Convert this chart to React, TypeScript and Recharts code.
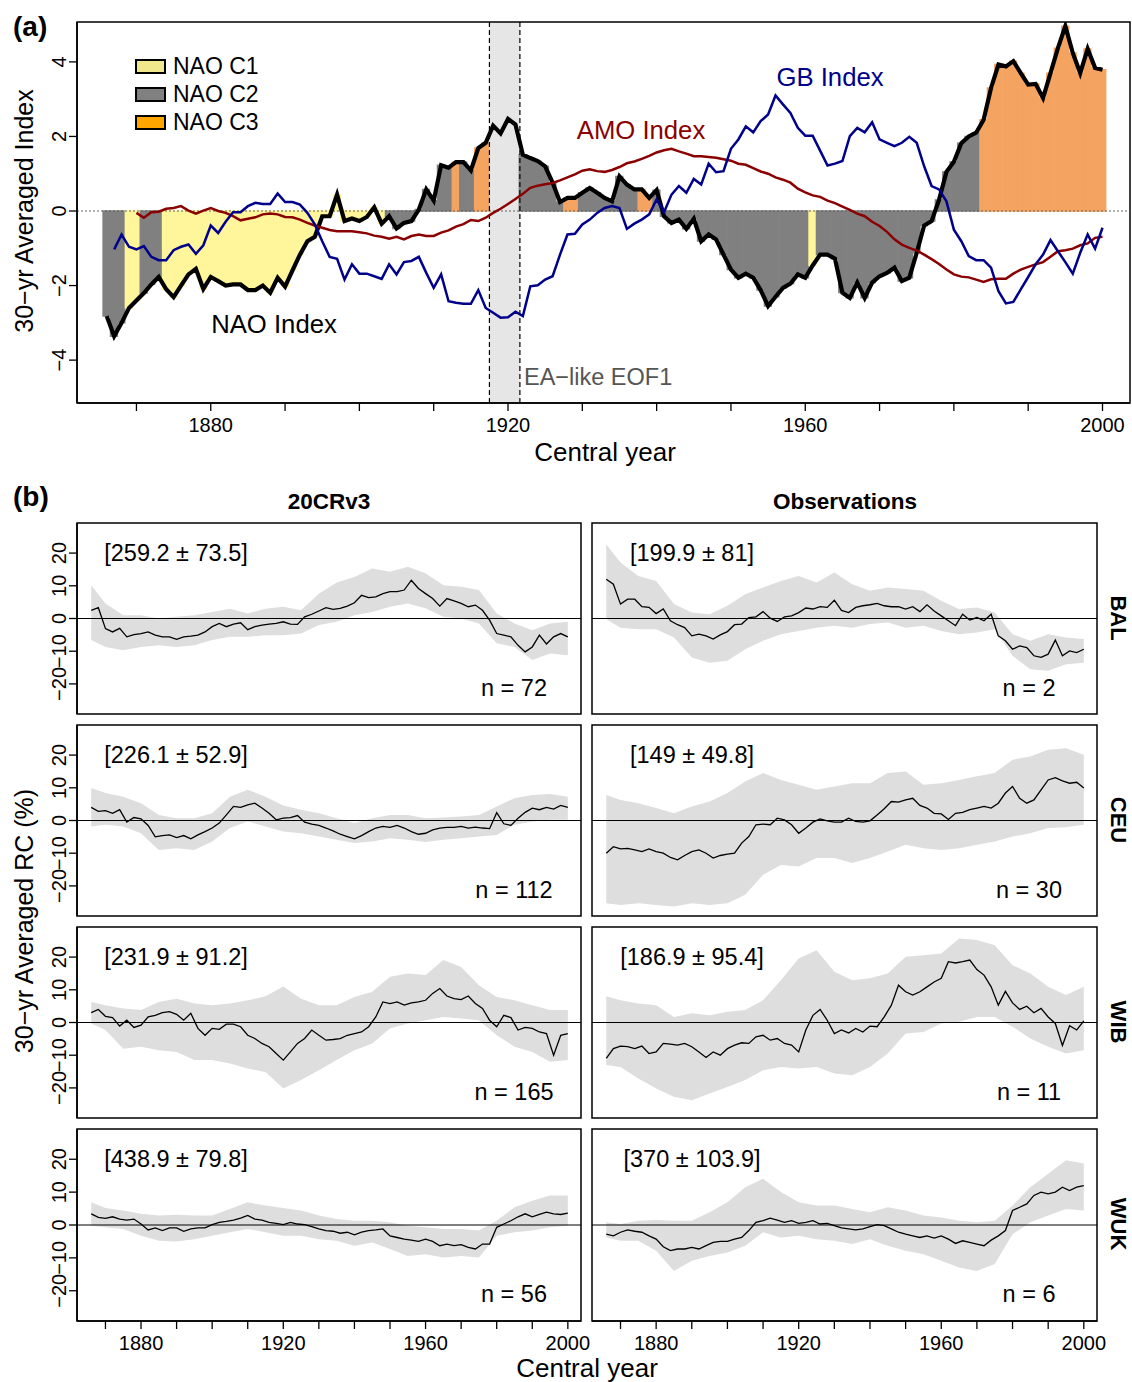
import React from 'react'
import {
  ComposedChart,
  Bar,
  Line,
  Area,
  XAxis,
  YAxis,
  ReferenceLine,
  ReferenceArea,
  Legend,
  Cell,
} from 'recharts'

const FONT = '"Liberation Sans", Arial, Helvetica, sans-serif'

// shared x axis
const X_MIN = 1862
const X_MAX = 2003.7
const DECADE_TICKS = [1870, 1880, 1890, 1900, 1910, 1920, 1930, 1940, 1950, 1960, 1970, 1980, 1990, 2000]
const LABELLED_YEARS = [1880, 1920, 1960, 2000]

// ---------- panel (a) ----------
const A_Y_DOMAIN = [-5.15, 5.07]
const A_Y_TICKS = [-4, -2, 0, 2, 4]

const NAO_START = 1866
const NAO = [
  -2.82, -3.36, -3.0, -2.6,
  -2.4, -2.2, -1.97, -1.77, -2.1, -2.31, -2.0, -1.7, -1.55, -2.09,
  -1.77, -1.88, -2.0, -1.97, -1.97, -2.12, -2.12, -2.0, -2.19, -1.79,
  -2.03, -1.59, -1.17, -0.81, -0.69, -0.14, -0.14, 0.44, -0.27, -0.2,
  -0.27, -0.16, 0.1, -0.34, -0.14, -0.47, -0.32, -0.27, 0.04, 0.58,
  0.28, 1.23, 1.16, 1.31, 1.31, 1.09, 1.69, 1.83, 2.29, 2.08,
  2.47, 2.32, 1.51, 1.42, 1.34, 1.2, 0.76, 0.24, 0.35, 0.35,
  0.49, 0.62, 0.49, 0.35, 0.26, 0.93, 0.71, 0.58, 0.58, 0.35,
  0.56, -0.14, -0.32, -0.23, -0.48, -0.21, -0.81, -0.63, -0.76, -1.17,
  -1.57, -1.79, -1.68, -1.79, -2.12, -2.55, -2.3, -2.06, -1.95, -1.7,
  -1.79, -1.46, -1.17, -1.17, -1.28, -2.19, -2.33, -1.92, -2.33, -1.92,
  -1.75, -1.66, -1.52, -1.88, -1.79, -1.12, -0.39, -0.27, 0.3, 1.05,
  1.32, 1.82, 2.0, 2.1, 2.45, 3.3, 3.93, 3.88, 4.02, 3.7,
  3.39, 3.41, 3.03, 3.7, 4.37, 4.96, 4.24, 3.7, 4.35, 3.84,
  3.79,
]
// 0 = not classified, 1..3 = NAO C1..C3
const NAO_CLASS = [
  2, 2, 2, 1,
  1, 2, 2, 2, 1, 1, 1, 1, 1, 1,
  1, 1, 1, 1, 1, 1, 1, 1, 1, 1,
  1, 1, 1, 1, 1, 1, 1, 1, 1, 1,
  1, 1, 1, 1, 2, 2, 2, 2, 2, 2,
  2, 2, 2, 3, 2, 2, 3, 3, 0, 0,
  0, 0, 2, 2, 2, 2, 2, 2, 3, 3,
  2, 2, 2, 2, 2, 2, 2, 2, 3, 3,
  2, 2, 2, 2, 2, 2, 2, 2, 2, 2,
  2, 2, 2, 2, 2, 2, 2, 2, 2, 2,
  2, 1, 2, 2, 2, 2, 2, 2, 2, 2,
  2, 2, 2, 2, 2, 2, 2, 2, 2, 2,
  2, 2, 2, 2, 3, 3, 3, 3, 3, 3,
  3, 3, 3, 3, 3, 3, 3, 3, 3, 3,
  3,
]
const GB_START = 1867
const GB = [
  -1.03, -0.63, -0.96,
  -1.03, -0.94, -1.23, -1.32, -1.32, -1.05, -0.96, -0.9, -1.15, -0.92,
  -0.39, -0.59, -0.29, -0.03, -0.03, 0.13, 0.22, 0.19, 0.19, 0.47,
  0.24, 0.24, 0.17, -0.05, -0.36, -0.81, -1.23, -1.28, -1.84, -1.43,
  -1.68, -1.68, -1.75, -1.82, -1.43, -1.7, -1.37, -1.34, -1.23, -1.66,
  -2.06, -1.7, -2.42, -2.46, -2.49, -2.49, -2.12, -2.6, -2.73, -2.86,
  -2.85, -2.7, -2.82, -2.02, -1.99, -1.84, -1.75, -1.17, -0.63, -0.61,
  -0.36, -0.23, -0.05, 0.08, 0.13, 0.08, -0.48, -0.34, -0.23, -0.09,
  0.31, -0.03, 0.44, 0.67, 0.49, 0.86, 0.71, 1.27, 1.04, 1.07,
  1.67, 1.92, 2.27, 2.11, 2.41, 2.59, 3.1, 2.86, 2.63, 2.23,
  2.02, 2.02, 1.62, 1.22, 1.27, 1.34, 2.01, 2.23, 2.11, 2.38,
  1.92, 1.83, 1.74, 1.83, 1.99, 1.83, 1.2, 0.67, 0.58, 0.26,
  -0.5, -0.81, -1.21, -1.32, -1.32, -1.52, -2.15, -2.48, -2.44, -2.1,
  -1.77, -1.43, -1.17, -0.78, -1.08, -1.37, -1.68, -1.12, -0.63, -1.01,
  -0.45,
]
const AMO_START = 1870
const AMO = [
  -0.05, -0.18, -0.03, -0.02, 0.06, 0.08, 0.13, 0.01, -0.07, 0.01,
  0.08, 0.0, -0.05, -0.14, -0.25, -0.21, -0.17, -0.09, -0.07, -0.09,
  -0.16, -0.17, -0.23, -0.32, -0.39, -0.45, -0.51, -0.54, -0.54, -0.54,
  -0.57, -0.6, -0.66, -0.69, -0.74, -0.69, -0.76, -0.67, -0.63, -0.67,
  -0.67, -0.58, -0.52, -0.42, -0.35, -0.24, -0.27, -0.18, -0.05, 0.06,
  0.19, 0.32, 0.46, 0.62, 0.68, 0.72, 0.75, 0.82, 0.9, 0.98,
  1.08, 1.12, 1.07, 1.05, 1.1, 1.18, 1.28, 1.33, 1.4, 1.48,
  1.57, 1.63, 1.67, 1.6, 1.54, 1.47, 1.47, 1.45, 1.43, 1.39,
  1.35, 1.27, 1.24, 1.15, 1.06, 1.0, 0.9, 0.84, 0.76, 0.6,
  0.5, 0.42, 0.38, 0.28, 0.21, 0.12, 0.03, -0.07, -0.14, -0.29,
  -0.4, -0.56, -0.76, -0.9, -0.99, -1.06, -1.17, -1.29, -1.42, -1.57,
  -1.7, -1.76, -1.78, -1.84, -1.9, -1.83, -1.82, -1.82, -1.68, -1.57,
  -1.5, -1.43, -1.37, -1.23, -1.08, -1.05, -1.01, -0.92, -0.87, -0.72,
  -0.69,
]
const EOF_WINDOW = [1917.5, 1921.6]

const CLASS_NAMES = ['NAO C1', 'NAO C2', 'NAO C3']
const CLASS_FILL = ['none', '#fff59a', '#808080', '#f4a460']
const CLASS_SWATCH = ['#f0e68c', '#808080', '#ffa500']

// ---------- panel (b) ----------
const B_Y_DOMAIN = [-29.2, 29.2]
const B_Y_TICKS = [-20, -10, 0, 10, 20]
const LINE_YEARS = Array.from({ length: 68 }, (_, i) => 1866 + 2 * i)
const BAND_YEARS = [1866, ...Array.from({ length: 27 }, (_, i) => 1870 + 5 * i)]

const BAL_20CR = [
  2.5, 3.3,
  -3.1, -4.1, -3.0, -5.6, -4.9,
  -4.6, -4.1, -5.1, -5.6, -5.6,
  -6.4, -5.6, -5.4, -5.1, -4.1,
  -2.5, -1.5, -2.5, -1.7, -1.3,
  -3.4, -2.5, -2.0, -1.7, -1.5,
  -1.0, -1.7, -1.8, 0.5, 1.3,
  2.3, 3.3, 2.8, 3.1, 3.8,
  4.8, 7.1, 6.4, 6.6, 7.6,
  8.2, 8.2, 8.7, 11.7, 9.2,
  7.6, 6.1, 3.8, 6.1, 5.4,
  4.6, 3.6, 4.1, 2.5, -0.5,
  -4.6, -5.1, -5.6, -8.2, -10.2,
  -8.7, -5.1, -7.8, -5.6, -4.6,
  -5.6,
]
const BAL_20CR_HI = [10.2, 4.6, 1.0, 1.0, 0.0, 0.5, 1.0, 2.0, 3.0, 1.5, 3.0, 3.6, 2.5, 7.6, 11.0, 12.7, 15.3, 14.3, 15.8, 13.8, 10.2, 9.7, 8.7, 1.5, -1.5, -3.6, -1.5, -1.0]
const BAL_20CR_LO = [-6.6, -8.7, -9.7, -8.7, -8.2, -8.7, -8.2, -6.6, -5.6, -5.6, -5.1, -5.1, -4.6, -2.0, -1.0, 1.0, 2.0, 3.6, 4.6, 3.1, 0.5, 0.0, -1.5, -7.6, -8.7, -12.7, -10.7, -11.2]

const BAL_OBS = [
  12.0, 10.5,
  4.4, 5.9, 5.9, 3.6, 3.4,
  1.5, 2.9, -0.7, -1.9, -2.8,
  -5.3, -4.8, -5.3, -6.3, -5.0,
  -4.0, -1.9, -1.7, 0.3, 0.5,
  2.1, 0.1, -0.9, 0.5, 0.8,
  1.8, 3.2, 2.9, 3.6, 3.4,
  5.6, 2.5, 1.8, 3.4, 3.9,
  4.2, 4.6, 3.9, 3.6, 3.6,
  2.9, 3.6, 2.1, 4.2, 2.3,
  0.8, -0.7, -2.2, 1.3, -0.5,
  0.3, -0.7, 1.3, -5.3, -6.8,
  -9.4, -8.4, -8.9, -11.4, -11.9,
  -10.9, -6.6, -11.4, -9.9, -10.4,
  -9.4,
]
const BAL_OBS_HI = [22.7, 17.1, 13.0, 11.5, 4.4, 1.8, 1.3, 3.9, 7.4, 9.5, 11.5, 13.0, 11.0, 14.1, 10.5, 8.5, 9.5, 9.0, 8.5, 5.4, 2.9, 3.4, 1.8, -4.8, -6.8, -4.8, -5.8, -6.3]
const BAL_OBS_LO = [-0.2, -2.8, -3.3, -3.3, -5.8, -11.9, -13.5, -12.9, -9.4, -6.8, -4.8, -3.8, -2.8, -2.2, -2.8, -1.7, -1.2, -2.8, -2.2, -3.8, -4.8, -4.3, -3.3, -11.4, -15.5, -16.0, -14.0, -13.5]

const CEU_20CR = [
  4.0, 2.8,
  3.0, 2.2, 3.3, -0.5, 0.9,
  0.5, -1.5, -5.0, -4.6, -4.4,
  -5.2, -4.6, -5.6, -4.4, -3.4,
  -2.3, -0.8, 1.7, 4.3, 4.0,
  4.8, 5.3, 3.8, 2.2, 0.2,
  0.7, 0.9, 1.5, -0.5, -1.1,
  -1.5, -2.3, -3.2, -4.2, -4.9,
  -5.6, -4.6, -3.4, -2.3, -1.8,
  -2.1, -1.5, -2.3, -3.4, -4.2,
  -3.9, -2.9, -2.3, -2.1, -2.1,
  -1.8, -2.3, -2.0, -2.3, -2.5,
  2.4, -1.0, -1.5, 0.7, 2.5,
  3.8, 3.3, 4.0, 3.5, 4.6,
  4.0,
]
const CEU_20CR_HI = [9.9, 8.4, 7.3, 5.3, 1.7, 0.7, 0.7, 2.2, 7.3, 9.4, 7.3, 4.6, 3.3, 2.2, 0.7, -0.8, 0.7, 1.7, 1.7, 0.7, 0.9, 1.2, 1.7, 4.3, 6.8, 7.8, 8.1, 7.3]
const CEU_20CR_LO = [-1.8, -1.3, -1.8, -3.9, -9.0, -8.5, -9.0, -6.4, -2.3, -0.3, -1.8, -3.4, -3.9, -4.9, -5.9, -6.9, -6.4, -5.4, -5.9, -6.6, -5.9, -5.4, -4.9, -4.4, -1.3, -0.3, 0.2, 0.2]

const CEU_OBS = [
  -10.0, -8.0,
  -8.7, -8.5, -9.0, -9.5, -8.7,
  -9.5, -10.0, -11.3, -12.0, -10.7,
  -9.5, -9.0, -10.0, -11.5, -10.7,
  -10.3, -10.0, -6.9, -4.9, -1.3,
  -1.1, -1.3, 0.7, 0.2, -1.3,
  -3.9, -2.3, -0.5, 0.5, -0.1,
  -0.5, -0.5, 0.7, -0.3, -0.5,
  -0.1, 1.7, 3.6, 5.8, 5.6,
  6.3, 6.8, 4.6, 3.8, 2.2,
  2.0, 0.3, 2.2, 2.5, 3.3,
  3.8, 4.3, 3.8, 5.3, 8.4,
  10.4, 6.8, 5.3, 6.3, 9.4,
  12.4, 13.1, 12.1, 11.4, 11.7,
  9.9,
]
const CEU_OBS_HI = [7.8, 6.3, 5.3, 3.8, 2.2, 4.3, 5.8, 8.4, 11.9, 14.5, 12.4, 10.9, 9.4, 10.4, 11.4, 11.4, 14.5, 15.0, 10.9, 11.4, 12.4, 13.5, 14.5, 18.6, 19.6, 21.6, 22.1, 20.1]
const CEU_OBS_LO = [-25.3, -25.8, -25.3, -25.8, -26.3, -25.3, -25.8, -25.3, -22.7, -16.6, -13.6, -14.1, -11.5, -11.5, -13.0, -11.5, -9.5, -7.4, -8.5, -9.0, -8.5, -7.4, -6.4, -4.9, -3.9, -2.3, -2.1, -1.3]

const WIB_20CR = [
  3.0, 4.0,
  1.9, 1.5, -1.1, 0.7, -1.5,
  -0.8, 1.7, 2.2, 3.0, 3.3,
  2.5, 0.7, 2.8, -1.8, -3.9,
  -1.8, -2.1, -0.5, -0.5, -1.3,
  -3.9, -4.9, -6.4, -7.4, -9.5,
  -11.5, -9.0, -6.4, -4.9, -2.3,
  -3.9, -5.4, -5.2, -4.9, -3.9,
  -3.4, -2.9, -1.3, 1.7, 6.3,
  5.8, 6.3, 5.3, 6.0, 6.3,
  6.8, 8.9, 10.4, 8.1, 7.3,
  7.0, 8.1, 5.8, 4.3, 0.7,
  -1.3, 2.2, 1.5, -2.3, -1.5,
  -1.8, -2.9, -3.4, -10.0, -3.9,
  -3.4,
]
const WIB_20CR_HI = [6.3, 5.3, 4.3, 3.8, 6.3, 7.3, 5.8, 5.3, 5.8, 6.8, 8.0, 11.0, 7.3, 5.3, 5.3, 7.8, 9.4, 14.0, 15.0, 14.5, 19.1, 17.0, 11.4, 7.8, 6.8, 5.3, 3.8, 3.8]
const WIB_20CR_LO = [-0.3, -2.3, -8.0, -7.4, -8.5, -9.0, -11.5, -11.5, -12.5, -14.1, -15.1, -20.2, -17.6, -14.6, -11.5, -8.5, -6.4, -1.8, -0.3, 0.7, 1.7, 1.2, 0.7, -3.9, -7.4, -9.0, -12.0, -11.5]

const WIB_OBS = [
  -11.0, -8.0,
  -7.2, -7.4, -8.0, -7.2, -9.5,
  -9.0, -6.4, -6.6, -6.9, -6.4,
  -7.4, -9.0, -10.7, -9.0, -10.0,
  -8.0, -6.9, -6.2, -6.4, -4.4,
  -3.9, -5.4, -4.9, -6.4, -6.9,
  -9.0, -2.3, 2.2, 4.0, 0.7,
  -3.4, -2.3, -3.2, -1.8, -2.9,
  -1.1, -1.3, 1.7, 5.3, 11.4,
  9.4, 8.4, 9.4, 10.9, 12.4,
  13.5, 18.6, 18.2, 18.6, 19.1,
  16.2, 14.5, 10.9, 5.3, 9.5,
  6.0, 4.0, 5.0, 3.0, 4.3,
  1.7, -0.3, -7.0, -1.0, -2.3,
  0.5,
]
const WIB_OBS_HI = [8.0, 6.8, 5.8, 5.3, 1.7, 2.8, 2.2, 3.3, 3.8, 6.8, 12.9, 19.6, 22.1, 15.5, 12.9, 13.5, 15.0, 20.1, 20.6, 21.1, 25.7, 25.2, 23.6, 17.5, 15.0, 10.9, 8.4, 10.9]
const WIB_OBS_LO = [-13.0, -13.6, -17.1, -20.2, -22.7, -23.8, -21.7, -19.7, -17.6, -14.6, -13.6, -14.1, -13.6, -15.6, -16.1, -13.6, -9.5, -3.4, -2.9, -0.3, 0.2, 1.7, 1.7, -1.3, -4.9, -7.4, -9.5, -8.5]

const WUK_20CR = [
  3.4, 2.3,
  2.0, 2.5, 1.8, 1.5, 1.8,
  0.3, -1.5, -0.9, -1.7, -0.9,
  -0.9, -1.9, -1.2, -0.9, -0.9,
  0.1, 0.8, 1.1, 1.5, 2.1,
  2.9, 1.8, 1.5, 0.8, 0.5,
  0.1, 0.8, 0.3, 0.1, -0.5,
  -1.2, -1.7, -1.9, -2.5, -2.2,
  -3.0, -2.2, -1.7, -1.5, -1.2,
  -3.3, -3.8, -4.3, -4.6, -5.0,
  -4.3, -5.0, -6.3, -5.8, -6.3,
  -6.0, -6.8, -7.3, -5.8, -5.8,
  -0.7, 0.3, 1.3, 2.5, 3.4,
  2.5, 3.2, 3.9, 3.4, 3.2,
  3.6,
]
const WUK_20CR_HI = [6.9, 5.2, 4.4, 3.4, 2.9, 3.1, 2.9, 2.9, 4.9, 6.9, 5.9, 5.2, 4.4, 2.9, 1.8, 1.3, 1.3, 0.8, -0.2, -0.7, -1.2, -1.2, -1.7, 1.3, 5.4, 7.4, 9.0, 9.0]
const WUK_20CR_LO = [-0.2, -0.7, -1.2, -3.3, -4.8, -5.0, -4.3, -3.3, -2.2, -1.2, -2.2, -3.3, -3.3, -4.3, -4.8, -6.3, -5.3, -7.3, -9.4, -8.9, -9.9, -9.4, -9.9, -3.3, -2.2, -1.7, -0.7, -0.2]

const WUK_OBS = [
  -2.8, -3.3,
  -2.2, -1.5, -1.9, -2.2, -3.3,
  -4.3, -6.6, -7.8, -7.3, -7.3,
  -6.8, -7.3, -6.3, -5.3, -5.0,
  -5.0, -4.3, -3.8, -1.7, 0.8,
  1.3, 2.1, 1.5, 0.8, 1.3,
  0.5, 0.8, 1.3, 0.3, 0.5,
  -0.2, -0.9, -1.2, -1.5, -1.2,
  -0.5, 0.1, -0.2, -1.2, -2.2,
  -2.8, -3.3, -3.8, -3.3, -4.0,
  -3.3, -4.3, -5.6, -4.8, -5.3,
  -5.8, -6.3, -4.6, -3.3, -1.7,
  4.4, 5.4, 6.4, 9.0, 10.0,
  9.5, 10.0, 11.5, 10.5, 11.5,
  12.0,
]
const WUK_OBS_HI = [0.8, 0.3, 1.3, 1.5, 1.3, 1.3, 3.9, 6.9, 11.5, 14.1, 10.0, 6.9, 5.9, 5.9, 4.9, 3.9, 5.4, 4.4, 2.9, 2.3, 1.3, 0.8, 1.3, 5.9, 11.5, 15.6, 19.7, 18.7]
const WUK_OBS_LO = [-3.8, -4.8, -4.8, -7.8, -14.0, -10.9, -9.4, -8.4, -6.3, -2.2, -3.8, -3.3, -4.3, -4.8, -5.8, -4.3, -6.3, -7.8, -8.9, -10.9, -12.9, -14.0, -11.9, -2.8, 0.8, 2.9, 4.9, 4.4]

const REGIONS = ['BAL', 'CEU', 'WIB', 'WUK']
const SOURCES = ['20CRv3', 'Observations']
const STATS = [
  ['[259.2 ± 73.5]', '[199.9 ± 81]'],
  ['[226.1 ± 52.9]', '[149 ± 49.8]'],
  ['[231.9 ± 91.2]', '[186.9 ± 95.4]'],
  ['[438.9 ± 79.8]', '[370 ± 103.9]'],
]
const COUNTS = [
  [72, 2],
  [112, 30],
  [165, 11],
  [56, 6],
]
const SERIES = [
  [[BAL_20CR, BAL_20CR_LO, BAL_20CR_HI], [BAL_OBS, BAL_OBS_LO, BAL_OBS_HI]],
  [[CEU_20CR, CEU_20CR_LO, CEU_20CR_HI], [CEU_OBS, CEU_OBS_LO, CEU_OBS_HI]],
  [[WIB_20CR, WIB_20CR_LO, WIB_20CR_HI], [WIB_OBS, WIB_OBS_LO, WIB_OBS_HI]],
  [[WUK_20CR, WUK_20CR_LO, WUK_20CR_HI], [WUK_OBS, WUK_OBS_LO, WUK_OBS_HI]],
]

// layout
const ROW_TOPS = [523, 725, 927, 1129]
const BOX_H = 191
const COL_LEFT = [77, 592]
const BOX_W = [504, 505]

const tableA = NAO.map((v, i) => {
  const year = NAO_START + i
  return {
    year,
    nao: v,
    cls: NAO_CLASS[i],
    gb: year >= GB_START ? GB[year - GB_START] : null,
    amo: year >= AMO_START ? AMO[year - AMO_START] : null,
  }
})

function buildRows(line: number[], lo: number[], hi: number[]) {
  const rows = new Map<number, any>()
  LINE_YEARS.forEach((y, i) => rows.set(y, { year: y, rc: line[i] }))
  BAND_YEARS.forEach((y, i) => {
    const r = rows.get(y) || { year: y }
    r.band = [lo[i], hi[i]]
    rows.set(y, r)
  })
  return Array.from(rows.values()).sort((a, b) => a.year - b.year)
}

const fmt = (v: number) => (v < 0 ? `\u2212${Math.abs(v)}` : `${v}`)

const RotatedYTick = (props: any) => {
  const { x, y, payload } = props
  return (
    <text
      x={x}
      y={y}
      transform={`rotate(-90 ${x} ${y})`}
      textAnchor="middle"
      fontSize={20}
      fontFamily={FONT}
      fill="#000"
    >
      {fmt(payload.value)}
    </text>
  )
}

const YearTick = (props: any) => {
  const { x, y, payload } = props
  if (!LABELLED_YEARS.includes(payload.value)) return <g />
  return (
    <text x={x} y={y + 12} textAnchor="middle" dominantBaseline="central" fontSize={20} fontFamily={FONT} fill="#000">
      {payload.value}
    </text>
  )
}

function ClassLegend() {
  return (
    <div style={{ fontFamily: FONT, fontSize: 23, color: '#000' }}>
      {CLASS_NAMES.map((name, i) => (
        <div key={name} style={{ display: 'flex', alignItems: 'center', height: 28 }}>
          <span
            style={{
              display: 'inline-block',
              width: 31,
              height: 15,
              background: CLASS_SWATCH[i],
              border: '2px solid #000',
              boxSizing: 'border-box',
              marginRight: 7,
            }}
          />
          <span>{name}</span>
        </div>
      ))}
    </div>
  )
}

function Txt({ x, y, children, size = 23.5, bold = false, anchor = 'middle', rotate = 0, color = '#000' }: any) {
  const tx = anchor === 'middle' ? '-50%' : anchor === 'end' ? '-100%' : '0'
  return (
    <div
      style={{
        position: 'absolute',
        left: x,
        top: y,
        transform: `translate(${tx}, -50%) rotate(${rotate}deg)`,
        whiteSpace: 'nowrap',
        fontSize: size,
        fontWeight: bold ? 700 : 400,
        color,
        fontFamily: FONT,
        lineHeight: 1,
      }}
    >
      {children}
    </div>
  )
}

function PanelA() {
  return (
    <div style={{ position: 'absolute', left: 0, top: 0 }}>
      <ComposedChart
        width={1132}
        height={470}
        data={tableA}
        margin={{ top: 22, right: 2, left: 0, bottom: 0 }}
        barCategoryGap={0}
        barGap={0}
      >
        <XAxis
          dataKey="year"
          type="number"
          domain={[X_MIN, X_MAX]}
          allowDataOverflow
          ticks={DECADE_TICKS}
          interval={0}
          tickSize={8}
          height={67}
          tick={YearTick}
          stroke="#000"
          tickLine={{ stroke: '#000', strokeWidth: 1.3 }}
          axisLine={{ stroke: '#000', strokeWidth: 1.5 }}
        />
        <YAxis
          type="number"
          domain={A_Y_DOMAIN}
          allowDataOverflow
          ticks={A_Y_TICKS}
          interval={0}
          width={77}
          tickSize={8}
          tickMargin={3}
          tick={RotatedYTick}
          tickLine={{ stroke: '#000', strokeWidth: 1.3 }}
          axisLine={{ stroke: '#000', strokeWidth: 1.5 }}
        />
        <ReferenceArea x1={EOF_WINDOW[0]} x2={EOF_WINDOW[1]} fill="#e6e6e6" fillOpacity={1} stroke="none" />
        <Bar dataKey="nao" isAnimationActive={false}>
          {tableA.map((r) => (
            <Cell key={r.year} fill={CLASS_FILL[r.cls]} stroke={CLASS_FILL[r.cls]} strokeWidth={1.3} />
          ))}
        </Bar>
        <ReferenceLine y={0} stroke="#555" strokeDasharray="2 2" strokeWidth={0.9} />
        <ReferenceLine x={EOF_WINDOW[0]} stroke="#000" strokeDasharray="5 3" strokeWidth={1.2} />
        <ReferenceLine x={EOF_WINDOW[1]} stroke="#000" strokeDasharray="5 3" strokeWidth={1.2} />
        <Line dataKey="nao" stroke="#000" strokeWidth={4.2} dot={false} activeDot={false} isAnimationActive={false} />
        <Line dataKey="amo" stroke="#8b0000" strokeWidth={2.5} dot={false} activeDot={false} isAnimationActive={false} />
        <Line dataKey="gb" stroke="#00008b" strokeWidth={2.5} dot={false} activeDot={false} isAnimationActive={false} />
        <ReferenceArea
          x1={X_MIN}
          x2={X_MAX}
          y1={A_Y_DOMAIN[0]}
          y2={A_Y_DOMAIN[1]}
          fill="none"
          stroke="#000"
          strokeWidth={1.5}
        />
        <Legend
          layout="horizontal"
          verticalAlign="middle"
          align="center"
          wrapperStyle={{ left: 135, top: 52, width: 'auto' }}
          content={() => <ClassLegend />}
        />
      </ComposedChart>
    </div>
  )
}

function SmallPanel({ row, col }: { row: number; col: number }) {
  const [line, lo, hi] = SERIES[row][col]
  const rows = buildRows(line, lo, hi)
  const isBottom = row === 3
  const isLeft = col === 0
  const leftPad = isLeft ? 0 : 1
  const rightPad = isBottom ? 26 : 3
  const yw = isLeft ? 77 : 0
  const width = leftPad + yw + BOX_W[col] + rightPad
  const height = 1 + BOX_H + 1 + (isBottom ? 40 : 0)
  const left = COL_LEFT[col] - yw - leftPad
  return (
    <div style={{ position: 'absolute', left, top: ROW_TOPS[row] - 1 }}>
      <ComposedChart
        width={width}
        height={height}
        data={rows}
        margin={{ top: 1, right: rightPad, left: leftPad, bottom: isBottom ? 0 : 1 }}
      >
        <XAxis
          dataKey="year"
          type="number"
          domain={[X_MIN, X_MAX]}
          allowDataOverflow
          ticks={DECADE_TICKS}
          interval={0}
          hide={!isBottom}
          tickSize={8}
          height={40}
          tick={YearTick}
          tickLine={{ stroke: '#000', strokeWidth: 1.3 }}
          axisLine={{ stroke: '#000', strokeWidth: 1.5 }}
        />
        <YAxis
          type="number"
          domain={B_Y_DOMAIN}
          allowDataOverflow
          ticks={B_Y_TICKS}
          interval={0}
          hide={!isLeft}
          width={77}
          tickSize={8}
          tickMargin={3}
          tick={RotatedYTick}
          tickLine={{ stroke: '#000', strokeWidth: 1.3 }}
          axisLine={{ stroke: '#000', strokeWidth: 1.5 }}
        />
        <Area
          dataKey="band"
          type="linear"
          stroke="none"
          fill="#dedede"
          fillOpacity={1}
          connectNulls
          dot={false}
          activeDot={false}
          isAnimationActive={false}
        />
        <ReferenceLine y={0} stroke="#000" strokeWidth={1} />
        <Line
          dataKey="rc"
          stroke="#000"
          strokeWidth={1.3}
          dot={false}
          activeDot={false}
          connectNulls
          isAnimationActive={false}
        />
        <ReferenceArea
          x1={X_MIN}
          x2={X_MAX}
          y1={B_Y_DOMAIN[0]}
          y2={B_Y_DOMAIN[1]}
          fill="none"
          stroke="#000"
          strokeWidth={1.5}
        />
      </ComposedChart>
    </div>
  )
}

export default function App() {
  const statX = [176, 692]
  const countX = [514, 1029]
  return (
    <div
      style={{
        position: 'absolute',
        left: 0,
        top: 0,
        width: 1132,
        height: 1382,
        background: '#fff',
        fontFamily: FONT,
      }}
    >
      <PanelA />
      {REGIONS.map((_, row) =>
        SOURCES.map((__, col) => <SmallPanel key={`${row}-${col}`} row={row} col={col} />)
      )}

      <Txt x={13} y={27} size={28} bold anchor="start">(a)</Txt>
      <Txt x={24} y={211} size={25} rotate={-90}>30−yr Averaged Index</Txt>
      <Txt x={605} y={452} size={26}>Central year</Txt>
      <Txt x={274} y={325} size={25.7}>NAO Index</Txt>
      <Txt x={641} y={131} size={25.7} color="#8b0000">AMO Index</Txt>
      <Txt x={830} y={78} size={25.7} color="#00008b">GB Index</Txt>
      <Txt x={524} y={378} size={23.5} color="#555" anchor="start">EA−like EOF1</Txt>

      <Txt x={13} y={497} size={28} bold anchor="start">(b)</Txt>
      <Txt x={329} y={502} size={22.5} bold>{SOURCES[0]}</Txt>
      <Txt x={845} y={502} size={22.5} bold>{SOURCES[1]}</Txt>
      <Txt x={24} y={921} size={25} rotate={-90}>30−yr Averaged RC (%)</Txt>
      <Txt x={587} y={1368} size={26}>Central year</Txt>

      {REGIONS.map((reg, row) => (
        <React.Fragment key={reg}>
          <Txt x={1118} y={ROW_TOPS[row] + 95} size={22} bold rotate={90}>{reg}</Txt>
          {[0, 1].map((col) => (
            <React.Fragment key={col}>
              <Txt x={statX[col]} y={ROW_TOPS[row] + 31} size={23.5}>{STATS[row][col]}</Txt>
              <Txt x={countX[col]} y={ROW_TOPS[row] + 166} size={23.5}>{`n = ${COUNTS[row][col]}`}</Txt>
            </React.Fragment>
          ))}
        </React.Fragment>
      ))}
    </div>
  )
}
